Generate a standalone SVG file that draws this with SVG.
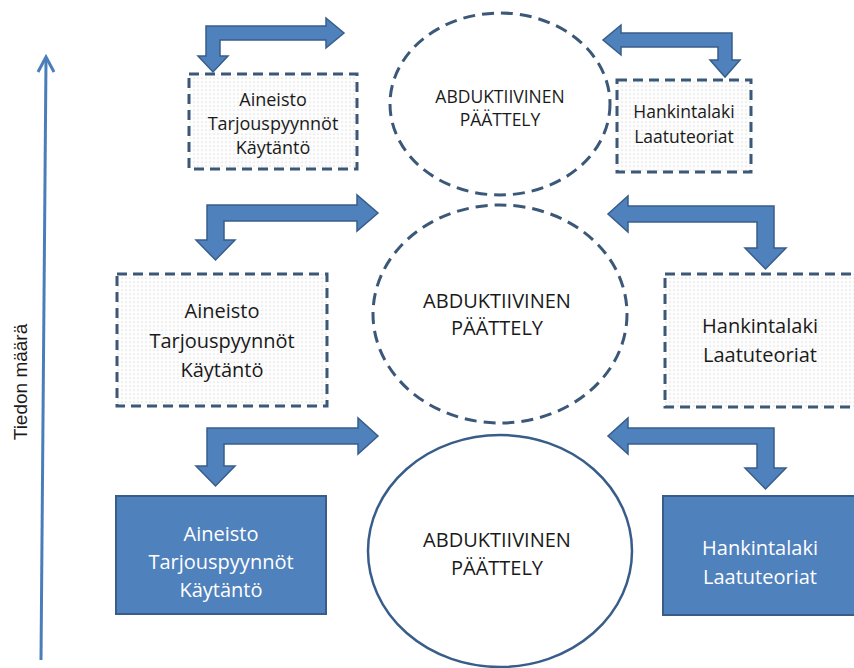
<svg xmlns="http://www.w3.org/2000/svg" width="854" height="668" viewBox="0 0 854 668">
<defs>
<pattern id="dots" width="4" height="4" patternUnits="userSpaceOnUse">
<rect width="4" height="4" fill="#fdfdfd"/>
<circle cx="2" cy="2" r="0.55" fill="#c4c4c4"/>
</pattern>
<style>
.arr{fill:#4F81BD;stroke:#385D8A;stroke-width:1.5;stroke-linejoin:miter}
.dbox{fill:url(#dots);stroke:#3B5878;stroke-width:3;stroke-dasharray:10 6}
.dcirc{fill:#fff;stroke:#3B5878;stroke-width:3;stroke-dasharray:12 7}
.sbox{fill:#4F81BD;stroke:#385D8A;stroke-width:2}
.scirc{fill:#fff;stroke:#385D8A;stroke-width:2.5}
.t{font-family:"Open Sans","Noto Sans",sans-serif;fill:#1a1a1a;text-anchor:middle}
.w{fill:#fff}
.s17{font-size:17.5px}
.s18{font-size:18px}
.s20{font-size:20px}
.ax{font-family:"Liberation Sans",Arial,sans-serif;font-size:19px;fill:#1a1a1a;text-anchor:middle}
</style>
</defs>
<rect width="854" height="668" fill="#fff"/>

<g id="axis">
<line x1="41" y1="660" x2="46" y2="59" stroke="#4A7EBB" stroke-width="3"/>
<polyline points="38,72 46,57 54,72" fill="none" stroke="#4A7EBB" stroke-width="3" stroke-linejoin="miter"/>
<text class="ax" transform="translate(27,382) rotate(-90)">Tiedon määrä</text>
</g>

<g id="connectors">
<polygon class="arr" points="206,26 326,26 326,18 344,33 326,48 326,40 220,40 220,56 228,56 213,72 198,56 206,56"/>
<polygon class="arr" points="732,33 621,33 621,25 603,40 621,55 621,47 718,47 718,60 710,60 725,77 740,60 732,60"/>
<polygon class="arr" points="207,205 357,205 357,195 378,213 357,231 357,221 224,221 224,240 235,240 215.5,260 196,240 207,240"/>
<polygon class="arr" points="774,206 628,206 628,196 608,214 628,232 628,222 757,222 757,248 745,248 765.5,269 786,248 774,248"/>
<polygon class="arr" points="207,428 358,428 358,418 378,436 358,454 358,444 224,444 224,466 235,466 215.5,486 196,466 207,466"/>
<polygon class="arr" points="774,428 628,428 628,418 608,436 628,454 628,444 757,444 757,468 745,468 765.5,489 786,468 774,468"/>
</g>

<g id="circle-top">
<ellipse class="dcirc" cx="500" cy="104" rx="110" ry="91"/>
<text class="t s17" x="500" y="103">ABDUKTIIVINEN</text>
<text class="t s17" x="500" y="126">PÄÄTTELY</text>
</g>

<g id="circle-mid">
<ellipse class="dcirc" cx="500" cy="314" rx="127" ry="109"/>
<text class="t s20" x="497" y="308">ABDUKTIIVINEN</text>
<text class="t s20" x="497" y="335">PÄÄTTELY</text>
</g>

<g id="circle-bottom">
<ellipse class="scirc" cx="500" cy="551" rx="132" ry="116"/>
<text class="t s20" x="497" y="547">ABDUKTIIVINEN</text>
<text class="t s20" x="497" y="575">PÄÄTTELY</text>
</g>

<g id="box-top-left">
<rect class="dbox" x="189" y="74" width="168" height="95"/>
<text class="t s18" x="273" y="106">Aineisto</text>
<text class="t s18" x="273" y="130">Tarjouspyynnöt</text>
<text class="t s18" x="273" y="154">Käytäntö</text>
</g>

<g id="box-top-right">
<rect class="dbox" x="617" y="80" width="134" height="92"/>
<text class="t s17" x="684" y="118">Hankintalaki</text>
<text class="t s17" x="684" y="143">Laatuteoriat</text>
</g>

<g id="box-mid-left">
<rect class="dbox" x="117" y="274" width="210" height="132"/>
<text class="t s20" x="222" y="318">Aineisto</text>
<text class="t s20" x="222" y="348">Tarjouspyynnöt</text>
<text class="t s20" x="222" y="377">Käytäntö</text>
</g>

<g id="box-mid-right">
<rect class="dbox" x="665" y="274" width="210" height="133"/>
<text class="t s20" x="760" y="333">Hankintalaki</text>
<text class="t s20" x="760" y="362">Laatuteoriat</text>
</g>

<g id="box-bottom-left">
<rect class="sbox" x="116" y="496" width="210" height="118"/>
<text class="t s20 w" x="221" y="541">Aineisto</text>
<text class="t s20 w" x="221" y="569">Tarjouspyynnöt</text>
<text class="t s20 w" x="221" y="597">Käytäntö</text>
</g>

<g id="box-bottom-right">
<rect class="sbox" x="663" y="496" width="210" height="119"/>
<text class="t s20 w" x="760" y="555">Hankintalaki</text>
<text class="t s20 w" x="760" y="584">Laatuteoriat</text>
</g>
</svg>
